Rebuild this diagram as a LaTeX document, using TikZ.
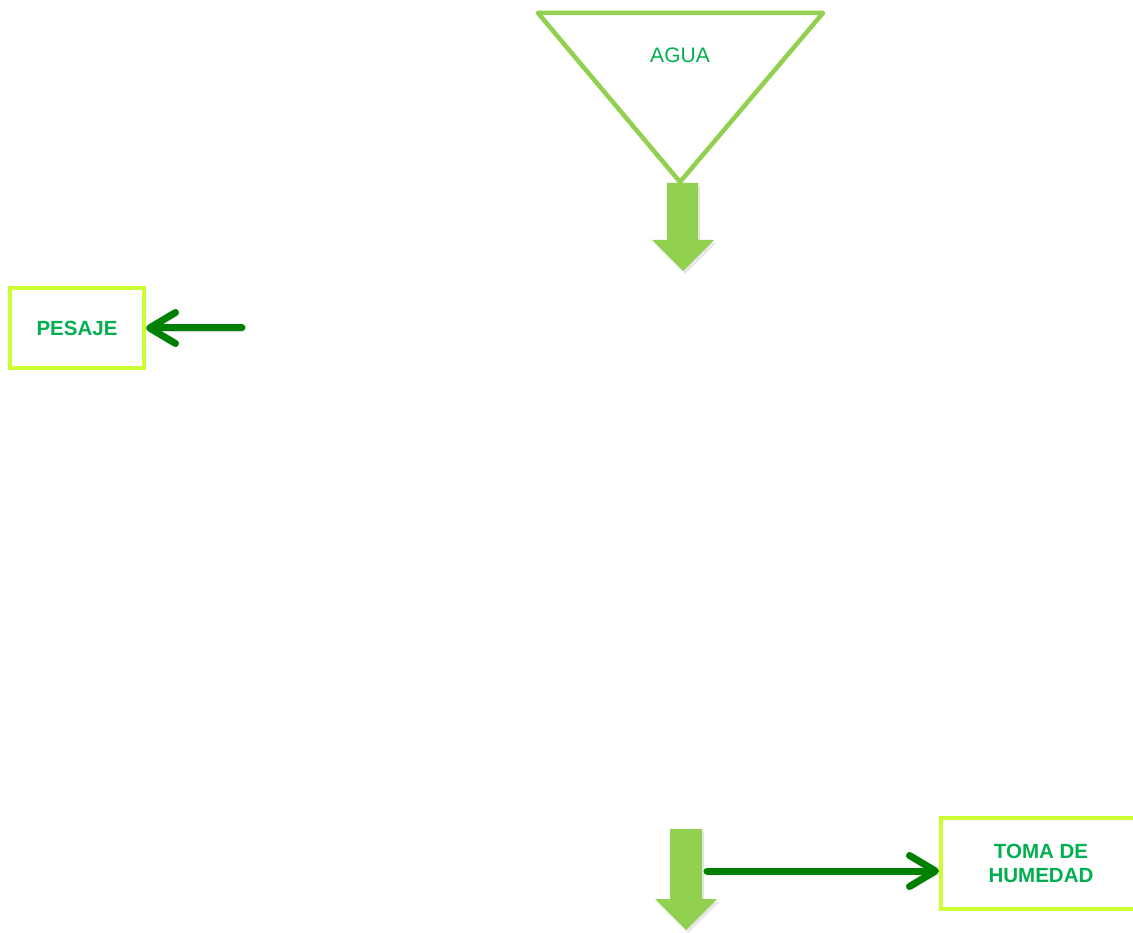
\documentclass[tikz,border=0pt]{standalone}
\usepackage{fontspec}
\setmainfont{Liberation Sans}
\usetikzlibrary{arrows.meta,shadows}
\definecolor{lgreen}{HTML}{92D050}
\definecolor{tgreen}{HTML}{00B050}
\definecolor{ygreen}{HTML}{CCFF33}
\definecolor{dgreen}{HTML}{008000}
\tikzset{
  box/.style={draw=ygreen, line width=4pt, fill=white, text=tgreen,
    font=\fontsize{20.5}{24.5}\selectfont\bfseries, align=center, inner sep=0pt},
  flow/.style={draw=dgreen, line width=7pt, line cap=round,
    -{Straight Barb[length=26pt,width=31pt,line cap=round,round]},
    preaction={draw=black, opacity=0.15, transform canvas={shift={(2pt,-3pt)}}}},
  blockarrow/.style={fill=lgreen, draw=none,
    drop shadow={opacity=0.2, shadow xshift=2pt, shadow yshift=-3pt}},
  funnel/.style={draw=lgreen, line width=4.5pt, line join=round, fill=white},
  label/.style={text=tgreen, font=\fontsize{21}{25}\selectfont, inner sep=0pt},
}
\begin{document}
\begin{tikzpicture}[x=1pt,y=-1pt]
  \useasboundingbox (0,0) rectangle (1133,933);
  \clip (0,0) rectangle (1133,933);
  % funnel (AGUA)
  \draw[funnel] (538,13) -- (823,13) -- (680,182) -- cycle;
  \node[label] (agua) at (680,55) {AGUA};
  % block arrows
  \fill[blockarrow] (667,183) -- (698,183) -- (698,240) -- (714,240) -- (683,271)
    -- (652,240) -- (667,240) -- cycle;
  \fill[blockarrow] (670,829) -- (702,829) -- (702,899) -- (717,899) -- (686,930)
    -- (655,899) -- (670,899) -- cycle;
  % boxes
  \node[box, minimum width=134pt, minimum height=80pt] (pesaje) at (77,328) {PESAJE};
  \node[box, minimum width=200pt, minimum height=91pt] (humedad) at (1041,863.5) {TOMA DE\\HUMEDAD};
  % connectors
  \coordinate (p0) at (242,328);
  \coordinate (h0) at (707,871);
  \draw[flow] (p0) -- (pesaje.east);
  \draw[flow] (h0) -- (humedad.west |- h0);
\end{tikzpicture}
\end{document}
